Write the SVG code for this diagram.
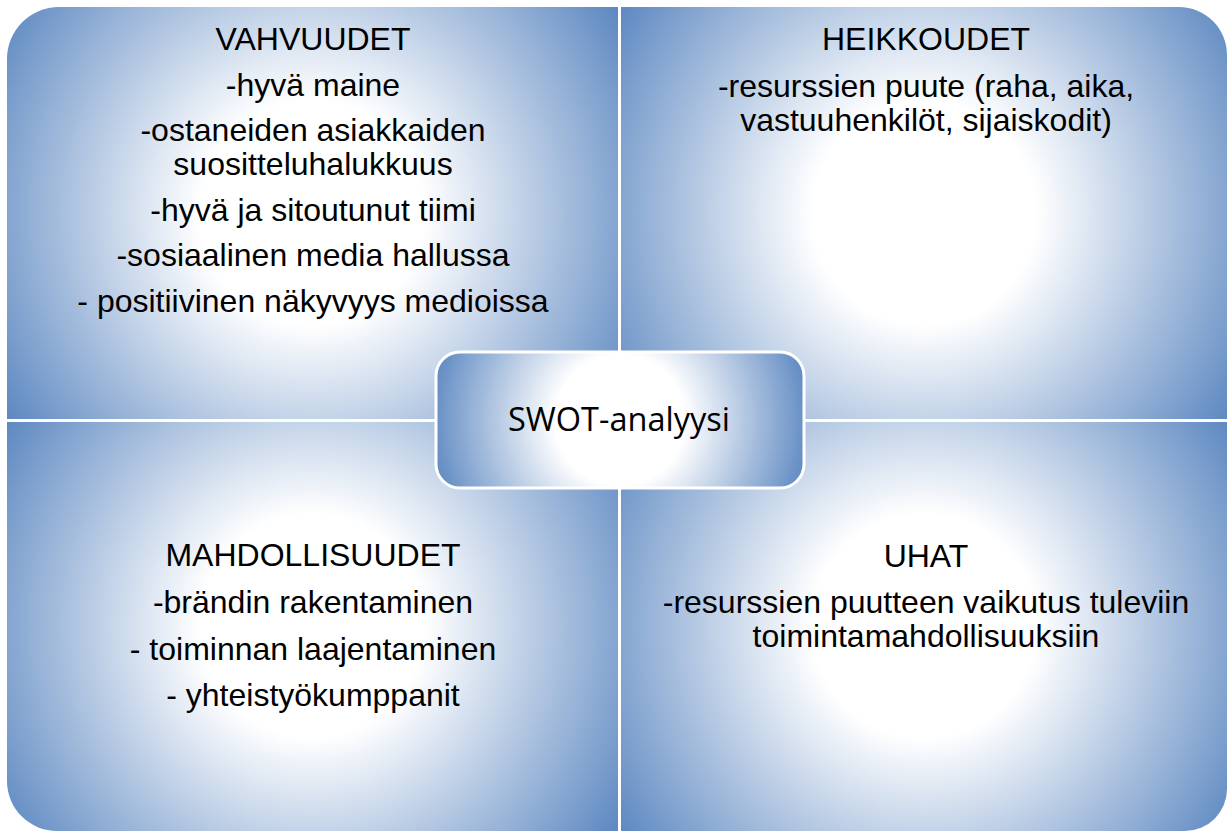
<svg xmlns="http://www.w3.org/2000/svg" width="1227" height="831" viewBox="0 0 1227 831">
<style>
.q text{font-family:"Liberation Sans",Arial,sans-serif;font-size:32px;fill:#000;text-anchor:middle}
.c text{font-family:"Open Sans","Noto Sans",sans-serif;font-size:32.5px;fill:#000;text-anchor:middle}
</style>
<defs>
<radialGradient id="gTL" gradientUnits="userSpaceOnUse" cx="312" cy="213" r="372">
<stop offset="0" stop-color="#fff"/><stop offset="0.3" stop-color="#fff"/><stop offset="1" stop-color="#5a86c0"/>
</radialGradient>
<radialGradient id="gTR" gradientUnits="userSpaceOnUse" cx="924" cy="213" r="372">
<stop offset="0" stop-color="#fff"/><stop offset="0.3" stop-color="#fff"/><stop offset="1" stop-color="#5a86c0"/>
</radialGradient>
<radialGradient id="gBL" gradientUnits="userSpaceOnUse" cx="312" cy="626" r="372">
<stop offset="0" stop-color="#fff"/><stop offset="0.3" stop-color="#fff"/><stop offset="1" stop-color="#5a86c0"/>
</radialGradient>
<radialGradient id="gBR" gradientUnits="userSpaceOnUse" cx="924" cy="626" r="372">
<stop offset="0" stop-color="#fff"/><stop offset="0.3" stop-color="#fff"/><stop offset="1" stop-color="#5a86c0"/>
</radialGradient>
<radialGradient id="gC" gradientUnits="userSpaceOnUse" cx="620" cy="420" r="196">
<stop offset="0" stop-color="#fff"/><stop offset="0.33" stop-color="#fff"/><stop offset="1" stop-color="#5a86c0"/>
</radialGradient>
</defs>
<rect width="1227" height="831" fill="#fff"/>
<g id="vahvuudet" class="q">
<path d="M7,59 A52,52 0 0 1 59,7 L618,7 L618,419 L7,419 Z" fill="url(#gTL)"/>
<text x="313" y="50">VAHVUUDET</text>
<text x="313" y="96">-hyvä maine</text>
<text x="313" y="141">-ostaneiden asiakkaiden</text>
<text x="313" y="175">suositteluhalukkuus</text>
<text x="313" y="221">-hyvä ja sitoutunut tiimi</text>
<text x="313" y="266">-sosiaalinen media hallussa</text>
<text x="313" y="312">- positiivinen näkyvyys medioissa</text>
</g>
<g id="heikkoudet" class="q">
<path d="M621,7 L1179,7 A48,48 0 0 1 1227,55 L1227,419 L621,419 Z" fill="url(#gTR)"/>
<text x="926" y="50">HEIKKOUDET</text>
<text x="926" y="97">-resurssien puute (raha, aika,</text>
<text x="926" y="131">vastuuhenkilöt, sijaiskodit)</text>
</g>
<g id="mahdollisuudet" class="q">
<path d="M7,422 L618,422 L618,831 L57,831 A50,50 0 0 1 7,781 Z" fill="url(#gBL)"/>
<text x="313" y="566">MAHDOLLISUUDET</text>
<text x="313" y="613">-brändin rakentaminen</text>
<text x="313" y="660">- toiminnan laajentaminen</text>
<text x="313" y="706">- yhteistyökumppanit</text>
</g>
<g id="uhat" class="q">
<path d="M621,422 L1227,422 L1227,789 A42,42 0 0 1 1185,831 L621,831 Z" fill="url(#gBR)"/>
<text x="926" y="567">UHAT</text>
<text x="926" y="613">-resurssien puutteen vaikutus tuleviin</text>
<text x="926" y="647">toimintamahdollisuuksiin</text>
</g>
<g id="connectors"/>
<g id="swot" class="c">
<rect x="436" y="352" width="368" height="136" rx="24" ry="24" fill="url(#gC)" stroke="#fff" stroke-width="3"/>
<text x="619" y="431">SWOT-analyysi</text>
</g>
</svg>
